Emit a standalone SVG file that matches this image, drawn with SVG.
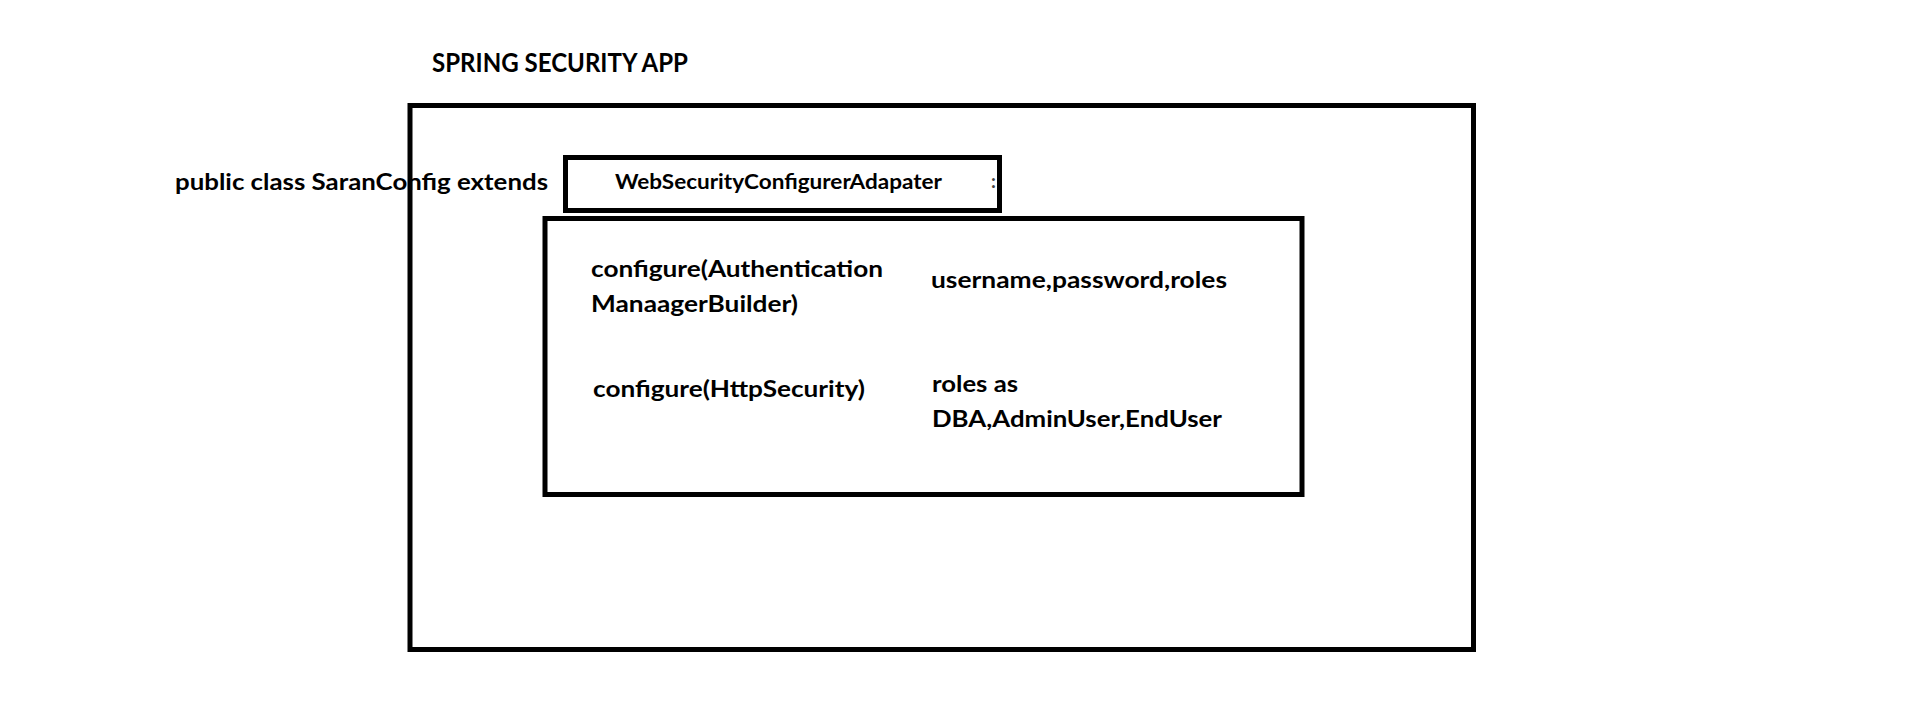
<svg xmlns="http://www.w3.org/2000/svg" width="1914" height="706" viewBox="0 0 1914 706">
  <style>
    .box { fill: none; stroke: #000; stroke-width: 5; }
    .t { font-family: Lato, "Open Sans", "Liberation Sans", sans-serif; font-weight: 700; fill: #000; }
    .body { font-size: 23px; }
    .title { font-size: 26px; }
    .small { font-size: 20px; }
  </style>
  <rect width="1914" height="706" fill="#fff"/>
  <text id="title" class="t title" x="432" y="72" textLength="256" lengthAdjust="spacingAndGlyphs">SPRING SECURITY APP</text>
  <g id="app">
    <rect class="box" x="410" y="105.5" width="1063.5" height="544"/>
  </g>
  <text id="decl" class="t body" x="175" y="190" textLength="373" lengthAdjust="spacingAndGlyphs">public class SaranConfig extends</text>
  <g id="adapter">
    <rect class="box" x="565.5" y="157.5" width="434" height="53"/>
    <text class="t small" x="615" y="189" textLength="327" lengthAdjust="spacingAndGlyphs">WebSecurityConfigurerAdapater</text>
    <text x="991" y="188" font-family="Lato, sans-serif" font-size="19" font-weight="700" fill="#444">:</text>
  </g>
  <g id="methods">
    <rect class="box" x="545" y="218.5" width="757" height="276"/>
    <text class="t body" x="591" y="276.5" textLength="292" lengthAdjust="spacingAndGlyphs">configure(Authentication</text>
    <text class="t body" x="591" y="311.5" textLength="207" lengthAdjust="spacingAndGlyphs">ManaagerBuilder)</text>
    <text class="t body" x="931" y="287.5" textLength="296" lengthAdjust="spacingAndGlyphs">username,password,roles</text>
    <text class="t body" x="593" y="396.5" textLength="272" lengthAdjust="spacingAndGlyphs">configure(HttpSecurity)</text>
    <text class="t body" x="932" y="391.5" textLength="86" lengthAdjust="spacingAndGlyphs">roles as</text>
    <text class="t body" x="932" y="426.5" textLength="290" lengthAdjust="spacingAndGlyphs">DBA,AdminUser,EndUser</text>
  </g>
  <g id="connectors"></g>
</svg>
